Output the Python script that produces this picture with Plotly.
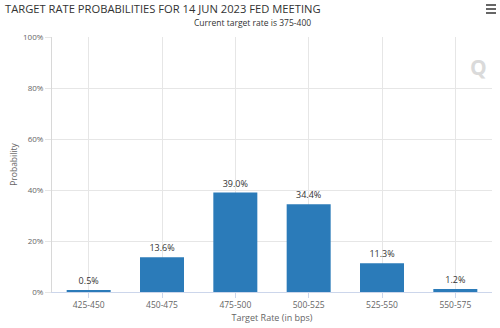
import plotly.graph_objects as go

# Probability of each target rate range at the 14 Jun 2023 FOMC meeting
rate_ranges = ["425-450", "450-475", "475-500", "500-525", "525-550", "550-575"]
probabilities = [0.5, 13.6, 39.0, 34.4, 11.3, 1.2]
y_ticks = [0, 20, 40, 60, 80, 100]
y_tick_labels = ["0%", "20%", "40%", "60%", "80%", "100%"]

FONT = "Open Sans, DejaVu Sans, sans-serif"

# plot area in pixels: left 52, right 492, top 37, bottom 292
L, R, T, B = 52, 492, 37, 292


def px_x(x):
    return (x - L) / (R - L)


def px_y(y):
    return (B - y) / (B - T)


fig = go.Figure(
    go.Bar(
        x=rate_ranges,
        y=probabilities,
        marker=dict(color="#2b7bb9", line=dict(width=0)),
        width=0.6,
        text=[f"{v:.1f}%" for v in probabilities],
        textposition="outside",
        textfont=dict(size=9, color="#333333", family=FONT),
        cliponaxis=False,
    )
)

# hamburger menu icon
menu_lines = [
    dict(type="line", xref="paper", yref="paper",
         x0=px_x(486), x1=px_x(496), y0=px_y(yy), y1=px_y(yy),
         line=dict(color="#666666", width=2))
    for yy in (5, 9, 13)
]

fig.update_layout(
    width=500,
    height=328,
    margin=dict(l=L, r=500 - R, t=T, b=328 - B, autoexpand=False),
    paper_bgcolor="white",
    plot_bgcolor="white",
    showlegend=False,
    font=dict(family=FONT, color="#666666"),
    title=dict(
        text="TARGET RATE PROBABILITIES FOR 14 JUN 2023 FED MEETING",
        x=5 / 500, xanchor="left", y=1 - 9 / 328, yanchor="middle",
        font=dict(size=11.2, color="#333333", family=FONT),
    ),
    shapes=menu_lines,
    annotations=[
        dict(text="Current target rate is 375-400", x=px_x(252), y=px_y(23),
             xref="paper", yref="paper", yanchor="middle", showarrow=False,
             font=dict(size=8.5, color="#333333")),
        dict(text="<b>Q</b>", x=px_x(478), y=px_y(67), xref="paper", yref="paper",
             xanchor="center", yanchor="middle",
             showarrow=False, font=dict(size=21, color="#dadada")),
    ],
)

fig.update_xaxes(
    type="category",
    automargin=False,
    showgrid=True, gridcolor="#e6e6e6", gridwidth=1,
    showline=True, linecolor="#ccd6eb", linewidth=1,
    ticks="outside", ticklen=5, tickcolor="#ccd6eb",
    tickfont=dict(size=8.5, color="#666666"),
    title=dict(text="Target Rate (in bps)", font=dict(size=9, color="#666666"),
               standoff=5),
)
fig.update_yaxes(
    range=[0, 100],
    automargin=False,
    tickvals=y_ticks, ticktext=y_tick_labels,
    showgrid=True, gridcolor="#e6e6e6", gridwidth=1,
    showline=True, linecolor="#d8d8d8", linewidth=1,
    ticks="outside", ticklen=6, tickcolor="#e6e6e6",
    zeroline=False,
    tickfont=dict(size=8, color="#666666"),
    title=dict(text="Probability", font=dict(size=8.5, color="#666666"), standoff=4),
)

fig.write_html("out.html")
